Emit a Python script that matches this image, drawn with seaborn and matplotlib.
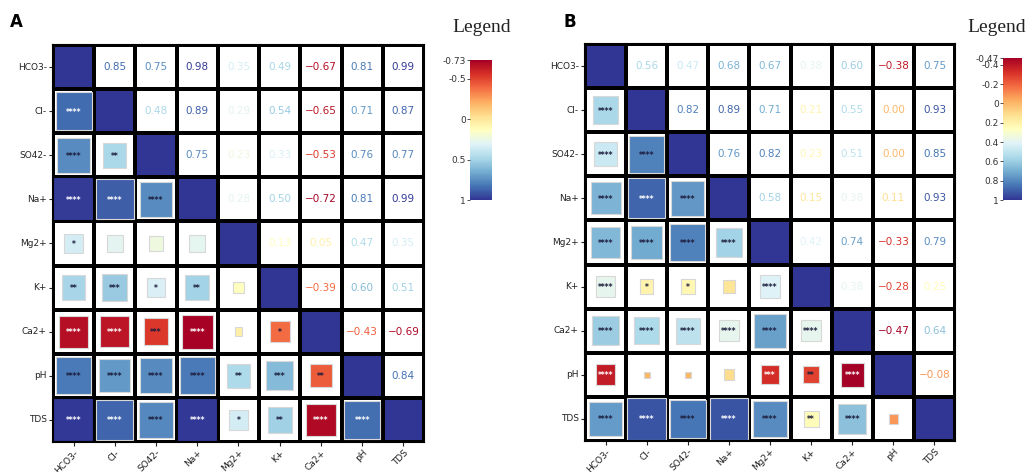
import numpy as np
import pandas as pd
import matplotlib
matplotlib.use("Agg")
import matplotlib.pyplot as plt
import seaborn as sns
from matplotlib.colors import ListedColormap, Normalize
from matplotlib.patches import Rectangle
from matplotlib.cm import ScalarMappable

labels = ["HCO3-", "Cl-", "SO42-", "Na+", "Mg2+", "K+", "Ca2+", "pH", "TDS"]

# upper-triangle correlations, row by row (row i, columns i+1..8)
upper_A = [
    [0.85, 0.75, 0.98, 0.35, 0.49, -0.67, 0.81, 0.99],
    [0.48, 0.89, 0.29, 0.54, -0.65, 0.71, 0.87],
    [0.75, 0.23, 0.33, -0.53, 0.76, 0.77],
    [0.28, 0.50, -0.72, 0.81, 0.99],
    [0.13, 0.05, 0.47, 0.35],
    [-0.39, 0.60, 0.51],
    [-0.43, -0.69],
    [0.84],
]
stars_A = [
    [],
    ["****"],
    ["****", "**"],
    ["****", "****", "****"],
    ["*", "", "", ""],
    ["**", "***", "*", "**", ""],
    ["****", "****", "***", "****", "", "*"],
    ["****", "****", "****", "****", "**", "***", "**"],
    ["****", "****", "****", "****", "*", "**", "****", "****"],
]
upper_B = [
    [0.56, 0.47, 0.68, 0.67, 0.38, 0.60, -0.38, 0.75],
    [0.82, 0.89, 0.71, 0.21, 0.55, 0.00, 0.93],
    [0.76, 0.82, 0.23, 0.51, 0.00, 0.85],
    [0.58, 0.15, 0.38, 0.11, 0.93],
    [0.42, 0.74, -0.33, 0.79],
    [0.38, -0.28, 0.25],
    [-0.47, 0.64],
    [-0.08],
]
stars_B = [
    [],
    ["****"],
    ["****", "****"],
    ["****", "****", "****"],
    ["****", "****", "****", "****"],
    ["****", "*", "*", "", "****"],
    ["****", "****", "****", "****", "****", "****"],
    ["****", "", "", "", "***", "**", "****"],
    ["****", "****", "****", "****", "****", "**", "****", ""],
]
vmin_A, vmax_A = -0.73, 1.0
vmin_B, vmax_B = -0.47, 1.0
cbar_ticks_A = [-0.73, -0.5, 0, 0.5, 1]
cbar_labels_A = ["-0.73", "-0.5", "0", "0.5", "1"]
cbar_ticks_B = [-0.47, -0.4, -0.2, 0, 0.2, 0.4, 0.6, 0.8, 1]
cbar_labels_B = ["-0.47", "-0.4", "-0.2", "0", "0.2", "0.4", "0.6", "0.8", "1"]

cmap = plt.get_cmap("RdYlBu")
W, H = 1032, 472
fig = plt.figure(figsize=(W / 100, H / 100), dpi=100)


def full_matrix(upper):
    n = len(labels)
    m = np.eye(n)
    for i, row in enumerate(upper):
        for k, v in enumerate(row):
            j = i + 1 + k
            m[i, j] = v
            m[j, i] = v
    return m


def draw_panel(ax, cax, upper, stars, vmin, vmax, ticks, ticklabels):
    n = len(labels)
    m = full_matrix(upper)
    df = pd.DataFrame(m, index=labels, columns=labels)
    norm = Normalize(vmin=vmin, vmax=vmax)
    # white grid
    sns.heatmap(df * 0, cmap=ListedColormap(["white"]), cbar=False,
                linewidths=1.5, linecolor="black", ax=ax)
    # diagonal
    sns.heatmap(df, mask=~np.eye(n, dtype=bool), cmap=cmap, vmin=vmin, vmax=vmax,
                cbar=False, linewidths=1.5, linecolor="black", ax=ax)
    for i in range(n):
        for j in range(n):
            r = m[i, j]
            if i > j:
                s = min(1.0, 0.15 + 0.85 * abs(r))
                col = cmap(norm(r))
                if s >= 0.975:
                    ax.add_patch(Rectangle((j, i), 1, 1, facecolor=col,
                                           edgecolor="black", lw=1.5, zorder=3))
                else:
                    ax.add_patch(Rectangle((j + 0.5 - s / 2, i + 0.5 - s / 2), s, s,
                                           facecolor=col, edgecolor="#d8d8d8", lw=0.8, zorder=3))
                st = stars[i][j]
                if st:
                    f = norm(r)
                    tc = "white" if (f > 0.903 or f < 0.11) else "#1c1c3c"
                    ax.text(j + 0.5, i + 0.52, st, ha="center", va="center",
                            fontsize=5.5, color=tc, zorder=4, fontweight="bold")
            elif j > i:
                txt = f"{r:.2f}".replace("-", "\u2212")
                ax.text(j + 0.5, i + 0.5, txt, ha="center", va="center",
                        fontsize=7.5, color=cmap(norm(r)), zorder=4)
    for sp in ax.spines.values():
        sp.set_visible(True)
        sp.set_linewidth(1.5)
        sp.set_color("black")
        sp.set_zorder(5)
    ax.set_xticks(np.arange(n) + 0.5)
    ax.set_yticks(np.arange(n) + 0.5)
    ax.set_xticklabels(labels, rotation=45, ha="right", rotation_mode="anchor")
    ax.set_yticklabels(labels, rotation=0)
    ax.tick_params(length=3, width=0.8, labelsize=6.5, colors="#222222", pad=1.5)
    ax.set_xlabel("")
    ax.set_ylabel("")

    cb = fig.colorbar(ScalarMappable(norm=norm, cmap=cmap), cax=cax)
    cax.invert_yaxis()
    cax.yaxis.set_ticks_position("left")
    cb.set_ticks(ticks)
    cb.set_ticklabels(ticklabels)
    cb.outline.set_visible(False)
    cax.tick_params(length=2, width=0.6, labelsize=6.5, colors="#333333", pad=1)


axA = fig.add_axes([53 / W, 1 - 442 / H, (424 - 53) / W, (442 - 45) / H])
axB = fig.add_axes([585 / W, 1 - 441 / H, (955 - 585) / W, (441 - 44) / H])
caxA = fig.add_axes([470 / W, 1 - 200 / H, 22 / W, 140 / H])
caxB = fig.add_axes([1003 / W, 1 - 200 / H, 19 / W, 142 / H])

draw_panel(axA, caxA, upper_A, stars_A, vmin_A, vmax_A, cbar_ticks_A, cbar_labels_A)
draw_panel(axB, caxB, upper_B, stars_B, vmin_B, vmax_B, cbar_ticks_B, cbar_labels_B)

fig.text(16 / W, 1 - 22 / H, "A", fontsize=12, fontweight="bold", ha="center", va="center")
fig.text(570 / W, 1 - 22 / H, "B", fontsize=12, fontweight="bold", ha="center", va="center")
fig.text(482 / W, 1 - 27 / H, "Legend", fontsize=14, family="Liberation Serif",
         ha="center", va="center", color="#222222")
fig.text(997 / W, 1 - 27 / H, "Legend", fontsize=14, family="Liberation Serif",
         ha="center", va="center", color="#222222")

fig.savefig("out.png", dpi=100)
